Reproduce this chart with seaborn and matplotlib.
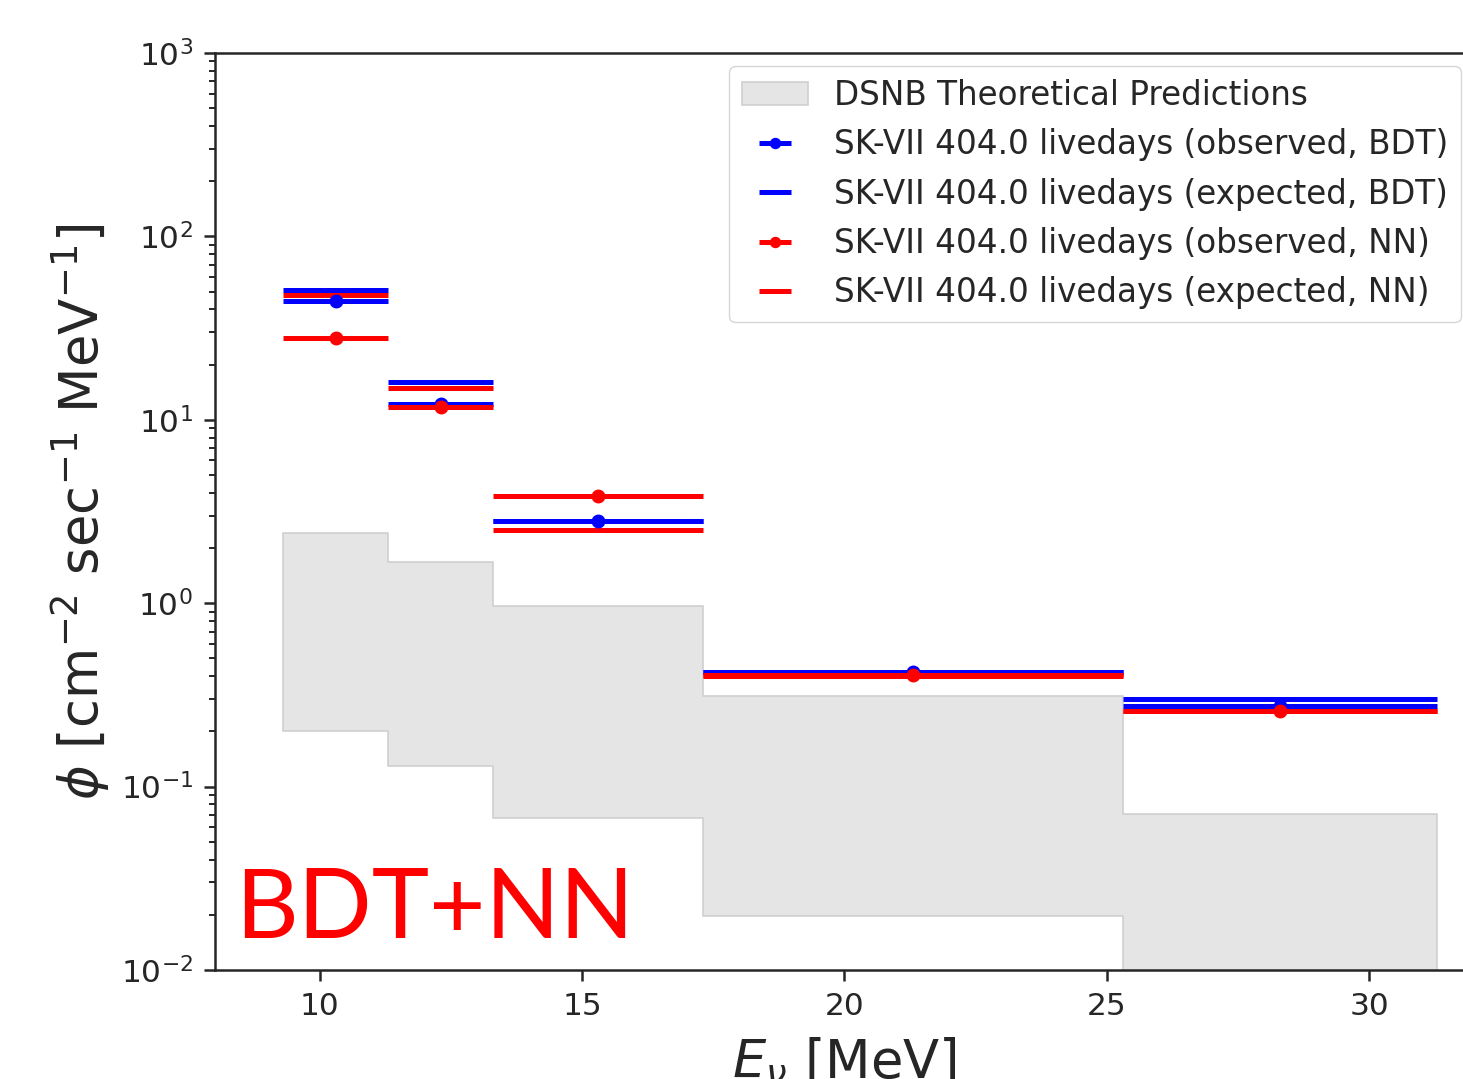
import matplotlib
matplotlib.use('Agg')
import matplotlib.pyplot as plt
import seaborn as sns

# bins in neutrino energy [MeV]
bin_edges = [9.3, 11.3, 13.3, 17.3, 25.3, 31.3]
bin_centers = [10.3, 12.3, 15.3, 21.3, 28.3]
bin_half_widths = [1.0, 1.0, 2.0, 4.0, 3.0]

# DSNB theoretical band (per bin)
theory_upper = [2.4, 1.67, 0.96, 0.31, 0.0707]
theory_lower = [0.2, 0.129, 0.067, 0.0197, 0.005]

# SK-VII 404.0 livedays upper limits
observed_bdt = [44.5, 12.2, 2.81, 0.422, 0.274]
expected_bdt = [50.9, 16.0, 2.82, 0.42, 0.302]
observed_nn = [28.0, 11.7, 3.85, 0.405, 0.259]
expected_nn = [47.8, 14.9, 2.50, 0.40, 0.259]

labels = ['DSNB Theoretical Predictions',
          'SK-VII 404.0 livedays (observed, BDT)',
          'SK-VII 404.0 livedays (expected, BDT)',
          'SK-VII 404.0 livedays (observed, NN)',
          'SK-VII 404.0 livedays (expected, NN)']

sns.set_theme(style='ticks', rc={
    'axes.linewidth': 1.8,
    'xtick.major.width': 1.8, 'ytick.major.width': 1.8,
    'ytick.minor.width': 1.4,
    'xtick.major.size': 8, 'ytick.major.size': 8, 'ytick.minor.size': 4.5,
    'xtick.labelsize': 22.5, 'ytick.labelsize': 22.5,
    'xtick.major.pad': 8, 'ytick.major.pad': 8,
})
plt.rcParams['font.family'] = ['DejaVu Sans']

fig = plt.figure(figsize=(14.63, 10.79), dpi=100)
ax = fig.add_axes([215 / 1463, 109 / 1079, 1259 / 1463, 917 / 1079])

band = ax.fill_between(bin_edges, theory_lower + [theory_lower[-1]],
                       theory_upper + [theory_upper[-1]], step='post',
                       facecolor='#e5e5e5', edgecolor='#cfcfcf', linewidth=1.2,
                       zorder=1)

lw = 3.6
ms = 9
exp_b = ax.errorbar(bin_centers, expected_bdt, xerr=bin_half_widths, fmt='none',
                    ecolor='blue', elinewidth=lw, zorder=2)
exp_n = ax.errorbar(bin_centers, expected_nn, xerr=bin_half_widths, fmt='none',
                    ecolor='red', elinewidth=lw, zorder=3)
obs_b = ax.errorbar(bin_centers, observed_bdt, xerr=bin_half_widths, fmt='o',
                    color='blue', ms=ms, elinewidth=lw, zorder=4)
obs_n = ax.errorbar(bin_centers, observed_nn, xerr=bin_half_widths, fmt='o',
                    color='red', ms=ms, elinewidth=lw, zorder=5)

ax.set_yscale('log')
ax.set_ylim(1e-2, 1e3)
ax.set_xlim(8, 32)
ax.set_xticks([10, 15, 20, 25, 30])
ax.tick_params(axis='x', which='minor', bottom=False)

ax.set_xlabel(r'$E_\nu$ [MeV]', fontsize=38, labelpad=10)
ax.set_ylabel(r'$\phi$ [cm$^{-2}$ sec$^{-1}$ MeV$^{-1}$]', fontsize=38, labelpad=6)

ax.legend([band, obs_b, exp_b, obs_n, exp_n], labels, loc='upper right',
          fontsize=23.5, borderaxespad=0.4, markerscale=0.8)

fig.text(235 / 1463, (1079 - 938) / 1079, 'BDT+NN', color='red', fontsize=70,
         family='Lato', va='baseline', ha='left')

fig.savefig('out.png', dpi=100)
